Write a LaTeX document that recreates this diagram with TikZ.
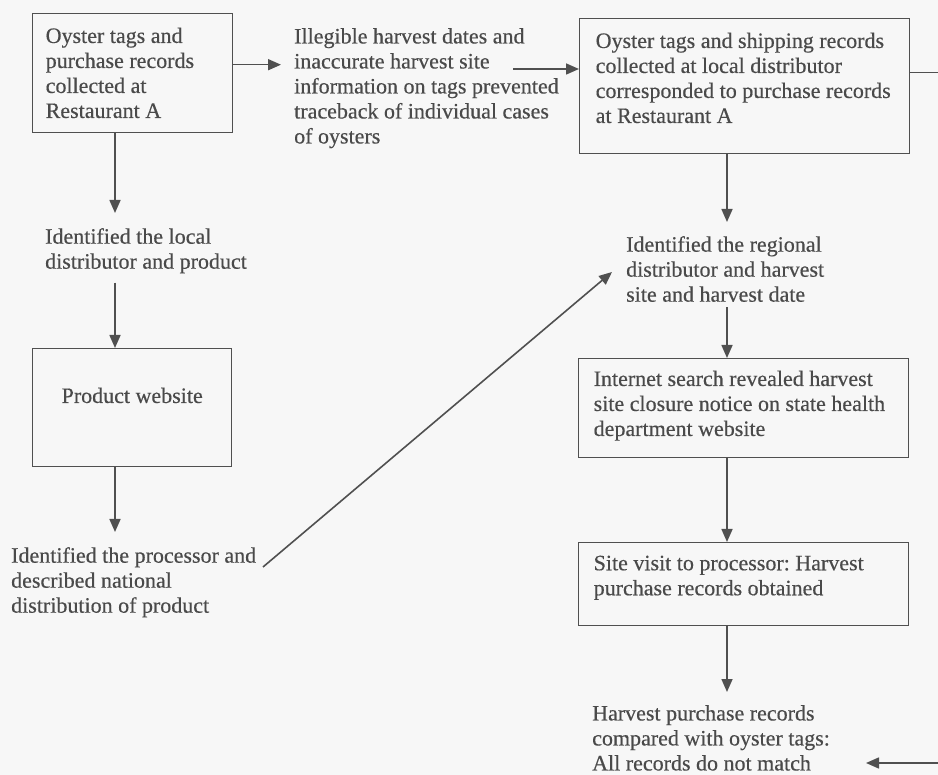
\documentclass[tikz,border=0pt]{standalone}
\usepackage{fontspec}
\setmainfont{Liberation Serif}[FakeBold=0.4]
\usetikzlibrary{arrows.meta}
\definecolor{bg}{HTML}{F7F7F7}
\definecolor{ink}{HTML}{4A4A4A}
\definecolor{lnc}{HTML}{505050}
\frenchspacing
\newcommand{\bxt}[4]{\parbox[t][#2][t]{#1}{\fontsize{22}{25}\selectfont\frenchspacing #3#4}}
\newcommand{\ftx}[2]{\parbox[t]{#1}{\fontsize{22}{25}\selectfont\frenchspacing\raggedright #2}}
\begin{document}
\begin{tikzpicture}[x=1pt,y=-1pt,
  every node/.style={text=ink},
  box/.style={draw=lnc,line width=1.4pt,inner xsep=0pt,anchor=north west},
  free/.style={inner sep=0pt,anchor=north west},
  arr/.style={draw=lnc,line width=1.6pt,-{Triangle[length=13pt,width=11pt]}}]
\useasboundingbox (0,0) rectangle (938,775);
\fill[bg] (0,0) rectangle (938,775);
% boxes
\node[box,inner ysep=14pt] (b1) at (32,13)
  {\bxt{200pt}{91pt}{\raggedright\leftskip=13pt\relax}{Oyster tags and\\purchase records\\collected at\\Restaurant A}};
\node[box,inner ysep=39pt] (pw) at (32,348)
  {\bxt{199pt}{40pt}{\centering}{Product website}};
\node[box,inner ysep=14pt] (b2) at (579,18)
  {\bxt{330pt}{107pt}{\raggedright\leftskip=16pt\relax}{Oyster tags and shipping records\\collected at local distributor\\corresponded to purchase records\\at Restaurant A}};
\node[box,inner ysep=12pt] (b3) at (578,358)
  {\bxt{330pt}{75pt}{\raggedright\leftskip=15pt\relax}{Internet search revealed harvest\\site closure notice on state health\\department website}};
\node[box,inner ysep=13pt] (b4) at (578,542)
  {\bxt{330pt}{57pt}{\raggedright\leftskip=15pt\relax}{Site visit to processor: Harvest\\purchase records obtained}};
% free texts
\node[free] (ill) at (294,28)
  {\ftx{290pt}{Illegible harvest dates and\\inaccurate harvest site\\information on tags prevented\\traceback of individual cases\\of oysters}};
\node[free] (loc) at (45,228)
  {\ftx{240pt}{Identified the local\\distributor and product}};
\node[free] (proc) at (11,547)
  {\ftx{262pt}{Identified the processor and\\described national\\distribution of product}};
\node[free] (reg) at (626,236)
  {\ftx{240pt}{Identified the regional\\distributor and harvest\\site and harvest date}};
\node[free] (fin) at (592,705)
  {\ftx{250pt}{Harvest purchase records\\compared with oyster tags:\\All records do not match}};
% helper coordinates
\coordinate (colA) at (115,0);
\coordinate (colB) at (727,0);
\coordinate (a1) at ([yshift=8.5pt]b1.east);
\coordinate (illout) at (513,69);
\coordinate (a2) at ([yshift=13.5pt]b2.east);
\coordinate (fintip) at (866,763);
\coordinate (dstart) at (263,567);
\coordinate (dend) at (612,272);
% connectors
\draw[arr,shorten >=13pt] (a1) -- (a1 -| ill.west);
\draw[arr] (illout) -- (illout -| b2.west);
\draw[arr] (a2) -- ++(37,0) |- (fintip);
\draw[arr,shorten >=15pt] (b1.south -| colA) -- (loc.north -| colA);
\draw[arr,shorten <=9pt] (loc.south -| colA) -- (pw.north -| colA);
\draw[arr,shorten >=15pt] (pw.south -| colA) -- (proc.north -| colA);
\draw[arr] (dstart) -- (dend);
\draw[arr,shorten >=14pt] (b2.south -| colB) -- (reg.north -| colB);
\draw[arr,shorten <=5pt] (reg.south -| colB) -- (b3.north -| colB);
\draw[arr] (b3.south -| colB) -- (b4.north -| colB);
\draw[arr,shorten >=13pt] (b4.south -| colB) -- (fin.north -| colB);
\end{tikzpicture}
\end{document}
